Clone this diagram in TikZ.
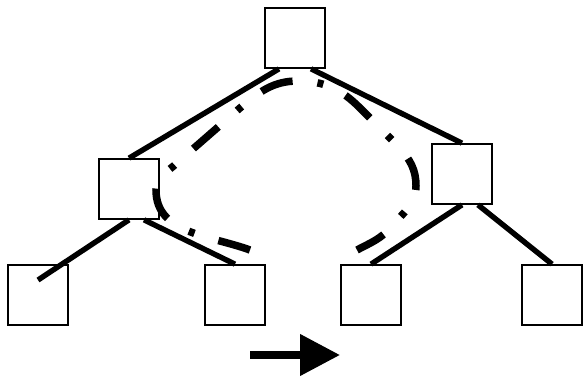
\documentclass[tikz,border=0pt]{standalone}
\usepackage{tikz}
\usetikzlibrary{arrows.meta, positioning}

\begin{document}
\begin{tikzpicture}[x=1pt, y=1pt]
\tikzstyle{box} = [rectangle, minimum size=60pt, inner sep=0pt, draw=black, line width=1.7pt, fill=white]
\tikzstyle{edge} = [line width=5.4pt]
\tikzstyle{walk} = [line width=7.5pt, dash pattern=on 33pt off 25pt on 6pt off 25pt]
\tikzstyle{bigarrow} = [line width=7.5pt, -{Triangle[length=40pt, width=40pt]}]

\useasboundingbox (0,0) rectangle (583,378);

\node (root) [box] at (295,340) {};
\node (l) [box] at (129,189) {};
\node (r) [box] at (462,204) {};
\node (ll) [box] at (38,83) {};
\node (lr) [box] at (235,83) {};
\node (rl) [box] at (371,83) {};
\node (rr) [box] at (552,83) {};

\draw [edge] ([xshift=-16pt]root.south) -- (l.north);
\draw [edge] ([xshift=16pt]root.south) -- (r.north);
\draw [edge] (l.south) -- ([yshift=15pt]ll.center);
\draw [edge] ([xshift=15pt]l.south) -- (lr.north);
\draw [edge] (r.south) -- (rl.north);
\draw [edge] ([xshift=16pt]r.south) -- (rr.north);

% traversal curve
\draw [walk] (250,128) to[out=160,in=-90] (156,188) to[out=90,in=225] (178,216)
  -- (240,270) to[out=40,in=180] (298,297) to[out=0,in=135] (360,270)
  -- (400,230) to[out=-50,in=90] (416,192) to[out=-90,in=50] (392,152)
  to[out=230,in=28] (357,128);

\coordinate (a1) at (250,23);
\coordinate (a2) at (340,23);
\draw [bigarrow] (a1) -- (a2);
\end{tikzpicture}
\end{document}
